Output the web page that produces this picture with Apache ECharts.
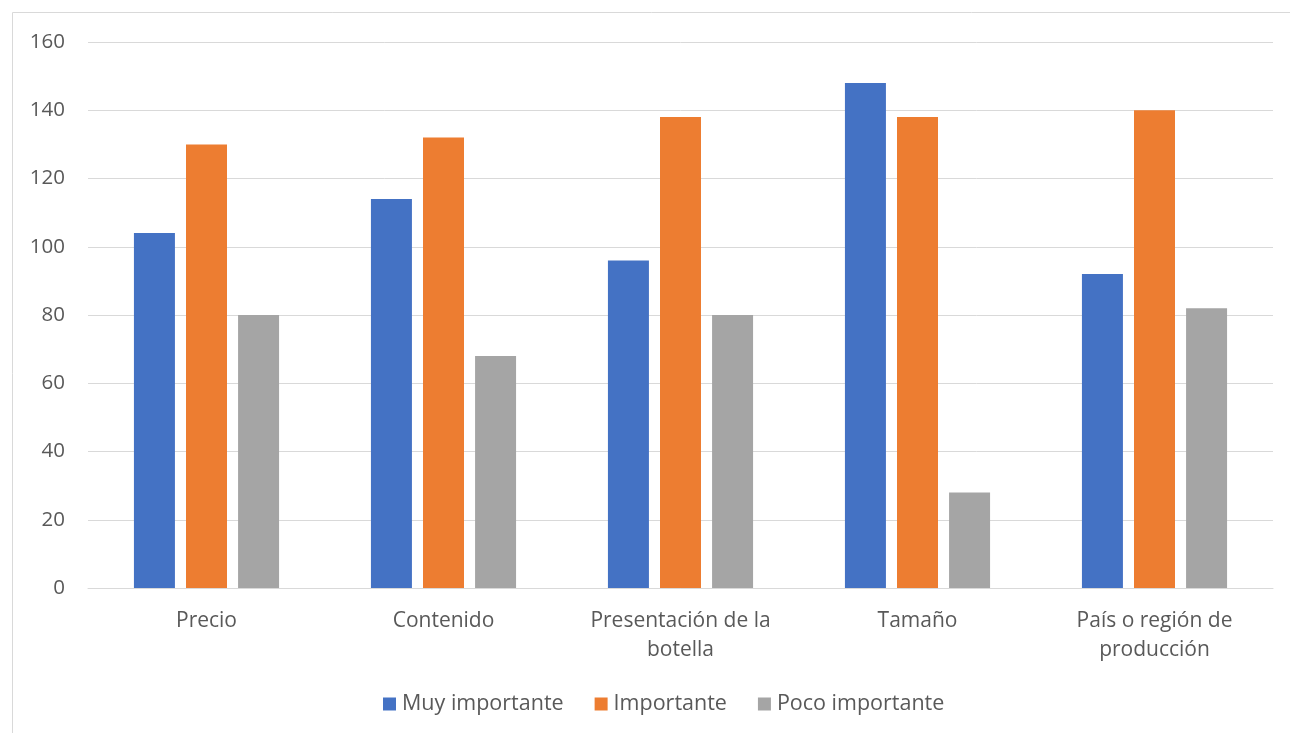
<!DOCTYPE html>
<html>
<head>
<meta charset="utf-8">
<style>
  html, body { margin: 0; padding: 0; background: #ffffff; }
  #chart { width: 1290px; height: 733px; }
</style>
<script src="https://cdn.jsdelivr.net/npm/echarts@6/dist/echarts.min.js"></script>
</head>
<body>
<div id="chart"></div>
<script>
const categories = ['Precio', 'Contenido', 'Presentación de la\nbotella', 'Tamaño', 'País o región de\nproducción'];
const muyImportante = [104, 114, 96, 148, 92];
const importante = [130, 132, 138, 138, 140];
const pocoImportante = [80, 68, 80, 28, 82];
const seriesNames = ['Muy importante', 'Importante', 'Poco importante'];
const yTicks = { min: 0, max: 160, interval: 20 };

const FONT = '"Open Sans", "Noto Sans", sans-serif';
const TEXT = '#595959';

const chart = echarts.init(document.getElementById('chart'), null, { renderer: 'canvas' });

function barSeries(name, data, color) {
  return {
    name: name,
    type: 'bar',
    data: data,
    barWidth: 41,
    barGap: '27%',
    itemStyle: { color: color },
    emphasis: { disabled: true }
  };
}

chart.setOption({
  animation: false,
  textStyle: { fontFamily: FONT },
  graphic: [{
    type: 'rect',
    shape: { x: 12.5, y: 12.5, width: 1400, height: 900 },
    style: { fill: 'none', stroke: '#d9d9d9', lineWidth: 1 },
    silent: true,
    z: -1
  }],
  grid: { left: 88, right: 17, top: 42, bottom: 145, containLabel: false },
  legend: {
    top: 688,
    left: 378,
    itemWidth: 13,
    itemHeight: 13,
    itemGap: 31,
    icon: 'rect',
    textStyle: { color: TEXT, fontSize: 21.5, fontFamily: FONT, padding: [0, 0, 0, 1] },
    data: seriesNames
  },
  xAxis: {
    type: 'category',
    data: categories,
    axisTick: { show: false },
    axisLine: { lineStyle: { color: '#d9d9d9', width: 1 } },
    axisLabel: {
      color: TEXT,
      fontSize: 21,
      fontFamily: FONT,
      margin: 19,
      lineHeight: 29,
      interval: 0
    }
  },
  yAxis: {
    type: 'value',
    min: yTicks.min,
    max: yTicks.max,
    interval: yTicks.interval,
    axisLine: { show: false },
    axisTick: { show: false },
    splitLine: { lineStyle: { color: '#d9d9d9', width: 1 } },
    axisLabel: { color: TEXT, fontSize: 20.5, fontFamily: FONT, margin: 23 }
  },
  series: [
    barSeries(seriesNames[0], muyImportante, '#4472C4'),
    barSeries(seriesNames[1], importante, '#ED7D31'),
    barSeries(seriesNames[2], pocoImportante, '#A5A5A5')
  ]
});
</script>
</body>
</html>
